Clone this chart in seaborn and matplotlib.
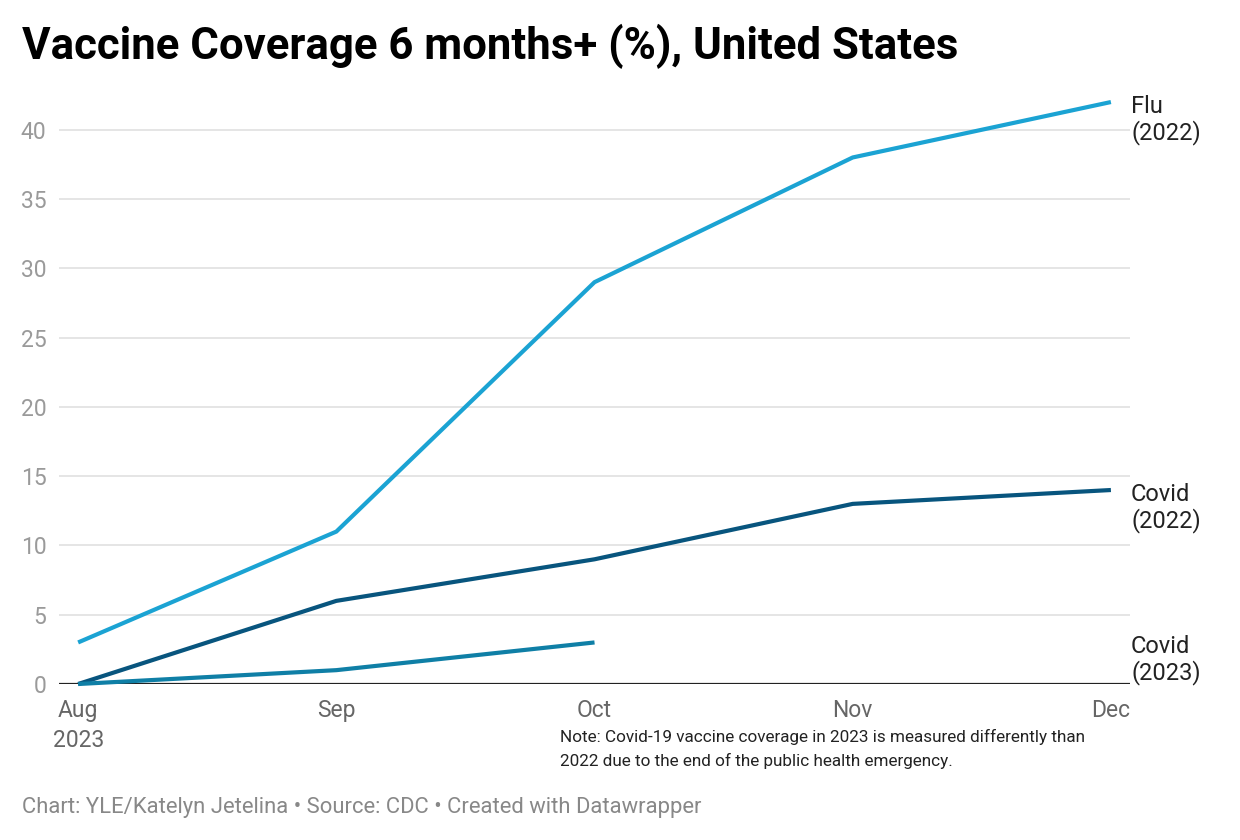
import matplotlib.pyplot as plt
import seaborn as sns
import pandas as pd

sns.set_style("white")
plt.rcParams['font.family'] = ['Roboto', 'DejaVu Sans']

# data
months = ["Aug", "Sep", "Oct", "Nov", "Dec"]
month_labels = ["Aug\n2023", "Sep", "Oct", "Nov", "Dec"]
flu_2022 = [3, 11, 29, 38, 42]
covid_2022 = [0, 6, 9, 13, 14]
covid_2023 = [0, 1, 3]
yticks = [0, 5, 10, 15, 20, 25, 30, 35, 40]

series = {
    "Flu\n(2022)": flu_2022,
    "Covid\n(2022)": covid_2022,
    "Covid\n(2023)": covid_2023,
}
colors = {"Flu\n(2022)": "#1ba3d3", "Covid\n(2022)": "#08557e", "Covid\n(2023)": "#0f7fa6"}

rows = []
for name, vals in series.items():
    for i, v in enumerate(vals):
        rows.append({"series": name, "month": i, "value": v})
df = pd.DataFrame(rows)

fig = plt.figure(figsize=(12.4, 8.4), dpi=100)
ax = fig.add_axes([0.0476, 0.1857, 0.8637, 0.6953])

# gridlines
for y in yticks[1:]:
    ax.axhline(y, color="#e3e3e3", lw=1.3, zorder=0)

sns.lineplot(data=df, x="month", y="value", hue="series", palette=colors,
             linewidth=3.0, legend=False, ax=ax, zorder=3)
for line in ax.lines:
    line.set_clip_on(False)
    line.set_solid_capstyle("butt")

ax.axhline(0, color="#222222", lw=1.6, zorder=2)

ax.set_xlim(-0.074, 4.074)
ax.set_ylim(0, 42.15)
ax.set_xticks(range(len(months)))
ax.set_xticklabels(month_labels, color="#666666", fontsize=16.5, linespacing=1.35)
ax.set_yticks(yticks)
ax.set_yticklabels([str(t) for t in yticks], color="#9a9a9a", fontsize=16.5)
ax.tick_params(axis="both", length=0)
ax.tick_params(axis="x", pad=11)
ax.tick_params(axis="y", pad=9)
ax.set_xlabel("")
ax.set_ylabel("")
for s in ax.spines.values():
    s.set_visible(False)

# line labels at right
label_y = {"Flu\n(2022)": 40.7, "Covid\n(2022)": 12.7, "Covid\n(2023)": 1.73}
for name, y in label_y.items():
    ax.text(4.078, y, name, fontsize=17, color="#222222", va="center", ha="left",
            linespacing=1.13, clip_on=False)

fig.text(22 / 1240, 1 - 46 / 840, "Vaccine Coverage 6 months+ (%), United States",
         fontsize=31.5, fontweight="bold", color="#000000", va="center", ha="left")
fig.text(560 / 1240, 1 - 749 / 840,
         "Note: Covid-19 vaccine coverage in 2023 is measured differently than\n2022 due to the end of the public health emergency.",
         fontsize=12.3, color="#222222", va="center", ha="left", linespacing=1.55)
fig.text(22 / 1240, 1 - 808 / 840,
         "Chart: YLE/Katelyn Jetelina \u2022 Source: CDC \u2022 Created with Datawrapper",
         fontsize=15.8, color="#888888", va="center", ha="left")

fig.savefig("out.png", dpi=100)
